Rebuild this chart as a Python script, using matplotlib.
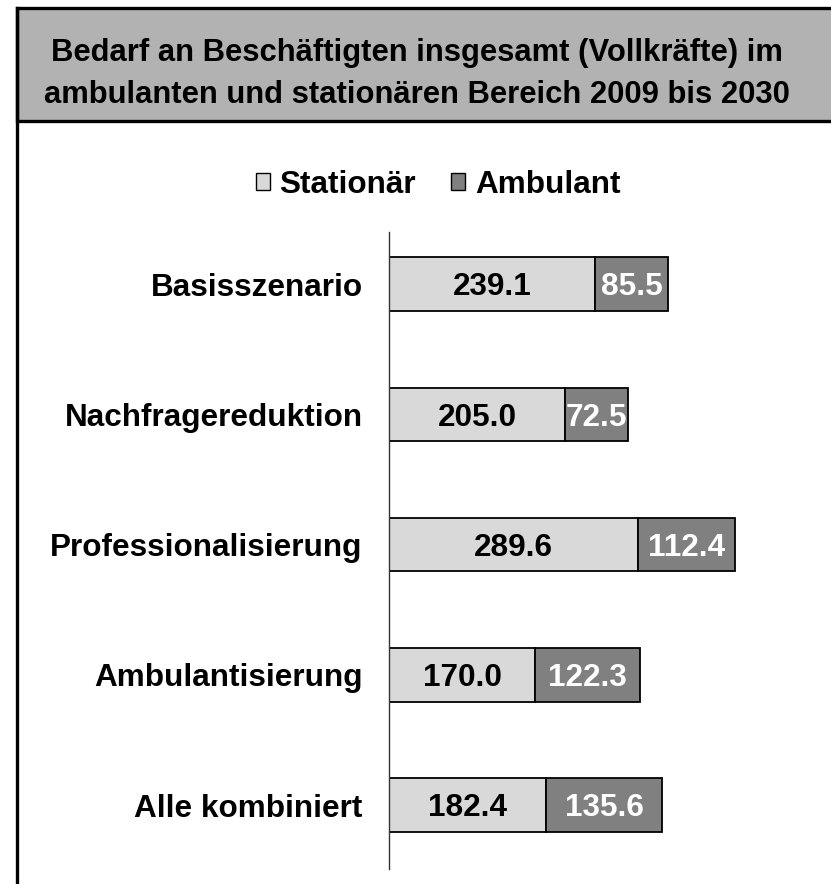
import matplotlib
matplotlib.use("Agg")
import matplotlib.pyplot as plt
from matplotlib.patches import Rectangle
from matplotlib.lines import Line2D

plt.rcParams['font.family'] = ['Liberation Sans', 'DejaVu Sans']

categories = ["Basisszenario", "Nachfragereduktion", "Professionalisierung",
              "Ambulantisierung", "Alle kombiniert"]
stationaer = [239.1, 205.0, 289.6, 170.0, 182.4]
ambulant = [85.5, 72.5, 112.4, 122.3, 135.6]
series_names = ["Stationär", "Ambulant"]
title = "Bedarf an Beschäftigten insgesamt (Vollkräfte) im\nambulanten und stationären Bereich 2009 bis 2030"

W, H = 831, 884
fig = plt.figure(figsize=(W / 100, H / 100), dpi=100)

def fx(px):
    return px / W

def fy(py):
    return 1 - py / H

FS = 22.7

# frame and title box
fig.patches.append(Rectangle((fx(17), fy(121)), 1.05 - fx(17), fy(8) - fy(121),
                             transform=fig.transFigure, facecolor="#b2b2b2",
                             edgecolor="black", linewidth=2.4, zorder=0))
fig.lines.append(Line2D([fx(17), fx(17)], [fy(8), -0.01], transform=fig.transFigure,
                        color="black", linewidth=2.4))
fig.text(fx(417), fy(74), title, ha="center", va="center", fontsize=22.3,
         fontweight="bold", linespacing=1.5)

# axes
ax_left, ax_right = 389, 831
ax_top, ax_bottom = 232, 869
ax = fig.add_axes([fx(ax_left), fy(ax_bottom), fx(ax_right) - fx(ax_left), fy(ax_top) - fy(ax_bottom)])
ax.set_xlim(0, (ax_right - ax_left) / 0.86)
ax.set_ylim(4.49, -0.40)

ypos = list(range(len(categories)))
b1 = ax.barh(ypos, stationaer, height=0.41, color="#d9d9d9", edgecolor="black",
             linewidth=1.3, label=series_names[0])
b2 = ax.barh(ypos, ambulant, left=stationaer, height=0.41, color="#808080",
             edgecolor="black", linewidth=1.3, label=series_names[1])

for y, s, a in zip(ypos, stationaer, ambulant):
    ax.text(s / 2, y + 0.025, f"{s:.1f}", ha="center", va="center", fontsize=FS,
            fontweight="bold", color="black")
    ax.text(s + a / 2, y + 0.025, f"{a:.1f}", ha="center", va="center", fontsize=FS,
            fontweight="bold", color="white")

ax.set_yticks(ypos)
ax.set_yticklabels(categories, fontsize=FS, fontweight="bold")
ax.tick_params(axis="y", length=0, pad=19)
ax.set_xticks([])
for side in ["top", "right", "bottom"]:
    ax.spines[side].set_visible(False)
ax.spines["left"].set_color("#333333")
ax.spines["left"].set_linewidth(1.0)

leg = fig.legend(handles=[b1, b2], labels=series_names, loc="center",
                 bbox_to_anchor=(fx(438), fy(185)), ncol=2, frameon=False,
                 prop={"size": FS, "weight": "bold"}, handlelength=0.46,
                 handleheight=0.46, handletextpad=0.3, columnspacing=1.1)
for h in leg.legend_handles:
    h.set_linewidth(1.0)

fig.savefig("out.png", dpi=100)
